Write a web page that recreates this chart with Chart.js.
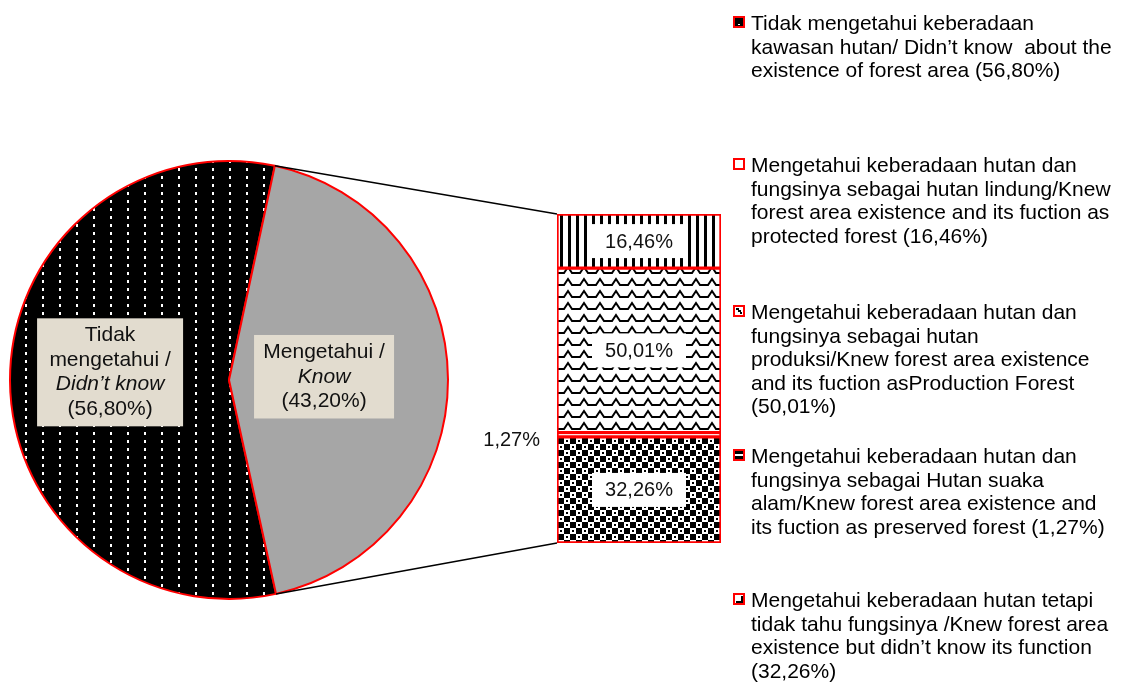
<!DOCTYPE html>
<html>
<head>
<meta charset="utf-8">
<script src="https://cdn.jsdelivr.net/npm/chart.js@4.4.0/dist/chart.umd.min.js"></script>
<style>
    html, body { margin: 0; padding: 0; background: #fff; }
    #wrap { position: relative; width: 1121px; height: 686px; overflow: hidden; font-family: "Liberation Sans", Arial, sans-serif; }
    #wrap canvas.layer { position: absolute; left: 0; top: 0; }
    .leg { position: absolute; left: 751px; font-size: 21px; line-height: 23.5px; color: #000; white-space: nowrap; }
    .leg canvas { position: absolute; left: -18px; top: 5px; }
</style>
</head>
<body>
<div id="wrap">
    <canvas id="pieChart" class="layer" width="1121" height="686"></canvas>
    <canvas id="barChart" class="layer" width="1121" height="686"></canvas>
    <div id="legend"></div>
</div>
<script>
// --- Datos ---
const pieNames = ['Tidak mengetahui / Didn’t know', 'Mengetahui / Know'];
const pieLabelLines = [['Tidak', 'mengetahui /', 'Didn’t know'], ['Mengetahui /', 'Know']];
const pieItalicLine = [2, 1];
const pieValues = [56.80, 43.20];

// orden de la leyenda (arriba -> abajo en la barra)
const barNames = ['Hutan lindung', 'Hutan produksi', 'Hutan suaka alam', 'Tidak tahu fungsinya'];
const barValues = [16.46, 50.01, 1.27, 32.26];

const legendTexts = [
    ['Tidak mengetahui keberadaan', 'kawasan hutan/ Didn’t know\u00a0 about the', 'existence of forest area (56,80%)'],
    ['Mengetahui keberadaan hutan dan', 'fungsinya sebagai hutan lindung/Knew', 'forest area existence and its fuction as', 'protected forest (16,46%)'],
    ['Mengetahui keberadaan hutan dan', 'fungsinya sebagai hutan', 'produksi/Knew forest area existence', 'and its fuction asProduction Forest', '(50,01%)'],
    ['Mengetahui keberadaan hutan dan', 'fungsinya sebagai Hutan suaka', 'alam/Knew forest area existence and', 'its fuction as preserved forest (1,27%)'],
    ['Mengetahui keberadaan hutan tetapi', 'tidak tahu fungsinya /Knew forest area', 'existence but didn’t know its function', '(32,26%)']
];

// --- Layout ---
const legendTop = [11, 153, 300, 444, 588];
const pieLabelPos = [{ r: 0.543, dy: -8, w: 146 }, { r: 0.434, dy: -3, w: 140 }];
const FONT = '"Liberation Sans", Arial, sans-serif';

function fmt(v) { return v.toFixed(2).replace('.', ','); }

// --- Patrones ---
function makePattern(w, h, draw) {
    const c = document.createElement('canvas');
    c.width = w; c.height = h;
    const g = c.getContext('2d');
    draw(g);
    return g.createPattern(c, 'repeat');
}

const dotPattern = makePattern(17, 8, g => {
    g.fillStyle = '#000'; g.fillRect(0, 0, 17, 8);
    g.fillStyle = '#fff'; g.fillRect(8, 0, 2, 3);
});
const stripePattern = makePattern(8, 8, g => {
    g.fillStyle = '#fff'; g.fillRect(0, 0, 8, 8);
    g.fillStyle = '#000'; g.fillRect(0, 0, 3, 8);
});
const zigzagPattern = makePattern(16, 12, g => {
    g.fillStyle = '#fff'; g.fillRect(0, 0, 16, 12);
    g.strokeStyle = '#000'; g.lineWidth = 2;
    g.beginPath();
    g.moveTo(0, 9); g.lineTo(4, 9); g.lineTo(8, 3); g.lineTo(12, 9); g.lineTo(16, 9);
    g.stroke();
});
const checkerPattern = makePattern(12, 12, g => {
    g.fillStyle = '#000'; g.fillRect(0, 0, 12, 12);
    g.fillStyle = '#fff';
    g.fillRect(6, 0, 6, 6); g.fillRect(0, 6, 6, 6);
    g.fillStyle = '#000';
    g.fillRect(8, 2, 2, 2); g.fillRect(2, 8, 2, 2);
});
const barFills = [stripePattern, zigzagPattern, '#ffffff', checkerPattern];

// --- Plugins ---
const pieLabelPlugin = {
    id: 'pieLabels',
    afterDatasetsDraw(chart) {
        const ctx = chart.ctx;
        chart.getDatasetMeta(0).data.forEach((arc, i) => {
            const p = arc.getProps(['x', 'y', 'startAngle', 'endAngle', 'outerRadius'], true);
            const mid = (p.startAngle + p.endAngle) / 2;
            const pos = pieLabelPos[i];
            const cx = p.x + Math.cos(mid) * p.outerRadius * pos.r;
            const cy = p.y + Math.sin(mid) * p.outerRadius * pos.r + pos.dy;
            const lines = [...pieLabelLines[i], '(' + fmt(pieValues[i]) + '%)'];
            const lh = 24.5;
            const boxH = lines.length * lh + 10;
            ctx.save();
            ctx.fillStyle = '#e2dccf';
            ctx.fillRect(cx - pos.w / 2, cy - boxH / 2, pos.w, boxH);
            ctx.fillStyle = '#111';
            ctx.textAlign = 'center';
            ctx.textBaseline = 'middle';
            lines.forEach((t, k) => {
                ctx.font = (k === pieItalicLine[i] ? 'italic ' : '') + '21px ' + FONT;
                ctx.fillText(t, cx, cy - (lines.length - 1) * lh / 2 + k * lh);
            });
            ctx.restore();
        });
    }
};

const barLabelPlugin = {
    id: 'barLabels',
    afterDatasetsDraw(chart) {
        const ctx = chart.ctx;
        ctx.save();
        ctx.font = '20px ' + FONT;
        ctx.textBaseline = 'middle';
        let top = null, bottom = null, left = null;
        chart.data.datasets.forEach((ds, d) => {
            const el = chart.getDatasetMeta(d).data[0];
            const cx = el.x, cy = (el.y + el.base) / 2;
            left = el.x - el.width / 2;
            if (top === null || el.y < top) top = el.y;
            if (bottom === null || el.base > bottom) bottom = el.base;
            const txt = fmt(ds.data[0]) + '%';
            if (ds.data[0] > 5) {
                ctx.fillStyle = '#fff';
                ctx.fillRect(cx - 47, cy - 17, 94, 34);
                ctx.fillStyle = '#111';
                ctx.textAlign = 'center';
                ctx.fillText(txt, cx, cy + 1);
            } else {
                ctx.fillStyle = '#111';
                ctx.textAlign = 'right';
                ctx.fillText(txt, left - 17, cy + 6);
            }
        });

        // lineas de union con la porcion "Know" del pastel
        const arc = pieChart.getDatasetMeta(0).data[1];
        const p = arc.getProps(['x', 'y', 'startAngle', 'endAngle', 'outerRadius'], true);
        ctx.strokeStyle = '#000';
        ctx.lineWidth = 1.5;
        ctx.beginPath();
        ctx.moveTo(p.x + Math.cos(p.startAngle) * p.outerRadius, p.y + Math.sin(p.startAngle) * p.outerRadius);
        ctx.lineTo(left, top);
        ctx.moveTo(p.x + Math.cos(p.endAngle) * p.outerRadius, p.y + Math.sin(p.endAngle) * p.outerRadius);
        ctx.lineTo(left, bottom);
        ctx.stroke();
        ctx.restore();
    }
};

// --- Graficos ---
const pieChart = new Chart(document.getElementById('pieChart'), {
    type: 'pie',
    data: {
        labels: pieNames,
        datasets: [{
            data: pieValues,
            backgroundColor: [dotPattern, '#a6a6a6'],
            borderColor: '#ff0000',
            borderWidth: 2
        }]
    },
    options: {
        responsive: false, animation: false, devicePixelRatio: 1,
        rotation: 167.6, radius: 219,
        layout: { padding: { left: 0, top: 150, right: 663, bottom: 76 } },
        plugins: { legend: { display: false }, tooltip: { enabled: false } }
    },
    plugins: [pieLabelPlugin]
});

// la barra se apila de abajo hacia arriba: invertimos el orden de la leyenda
const barDatasets = barValues.map((v, i) => ({
    label: barNames[i],
    data: [v],
    backgroundColor: barFills[i],
    borderColor: '#ff0000',
    borderWidth: 2,
    borderSkipped: false,
    barPercentage: 1,
    categoryPercentage: 1
})).reverse();

const barChart = new Chart(document.getElementById('barChart'), {
    type: 'bar',
    data: { labels: ['Mengetahui / Know'], datasets: barDatasets },
    options: {
        responsive: false, animation: false, devicePixelRatio: 1,
        layout: { padding: { left: 557, top: 214, right: 400, bottom: 143 } },
        scales: {
            x: { stacked: true, display: false },
            y: { stacked: true, display: false, min: 0, max: 100 }
        },
        plugins: { legend: { display: false }, tooltip: { enabled: false } }
    },
    plugins: [barLabelPlugin]
});

// --- Leyenda ---
const markerDraw = [
    g => { g.fillStyle = '#000'; g.fillRect(2, 2, 8, 8); g.fillStyle = '#fff'; g.fillRect(5, 8, 2, 1); },
    g => { g.fillStyle = '#fff'; g.fillRect(2, 2, 8, 8); },
    g => { g.fillStyle = '#fff'; g.fillRect(2, 2, 8, 8); g.fillStyle = '#000'; g.fillRect(3, 3, 3, 2); g.fillRect(5, 5, 3, 2); g.fillRect(7, 7, 2, 2); },
    g => { g.fillStyle = '#000'; g.fillRect(2, 2, 8, 8); g.fillStyle = '#fff'; g.fillRect(2, 5, 8, 2); },
    g => { g.fillStyle = '#fff'; g.fillRect(2, 2, 8, 8); g.fillStyle = '#000'; g.fillRect(3, 8, 7, 2); g.fillRect(8, 3, 2, 7); }
];

const legendEl = document.getElementById('legend');
legendTexts.forEach((lines, i) => {
    const div = document.createElement('div');
    div.className = 'leg';
    div.style.top = legendTop[i] + 'px';
    div.innerHTML = lines.join('<br>');
    const m = document.createElement('canvas');
    m.width = 12; m.height = 12;
    const g = m.getContext('2d');
    markerDraw[i](g);
    g.strokeStyle = '#ff0000'; g.lineWidth = 2;
    g.strokeRect(1, 1, 10, 10);
    div.appendChild(m);
    legendEl.appendChild(div);
});
</script>
</body>
</html>
